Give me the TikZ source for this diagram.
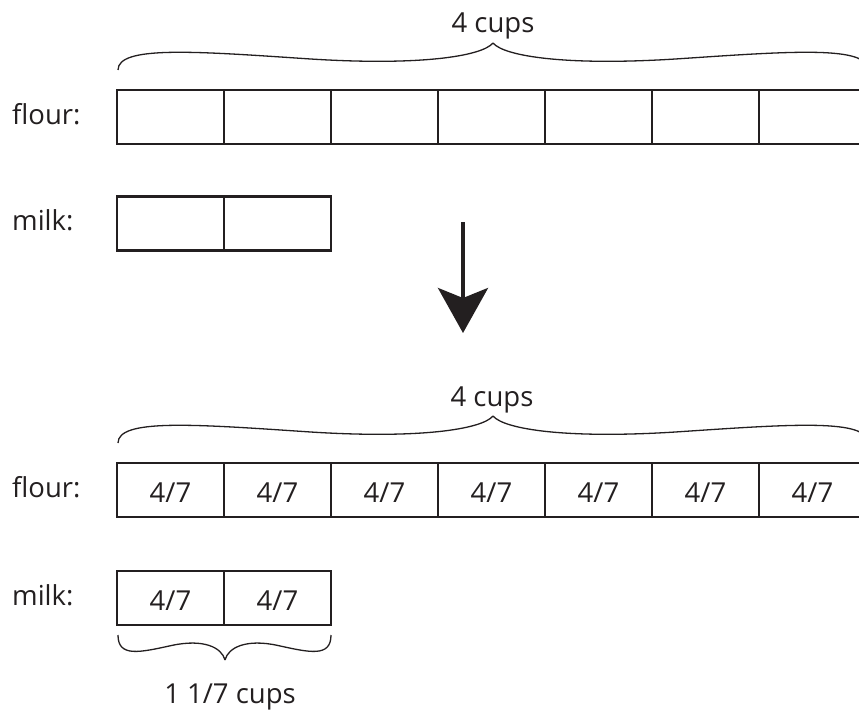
\documentclass[tikz,border=0pt]{standalone}
\usepackage{fontspec}
\setmainfont{Open Sans}
\usetikzlibrary{arrows.meta}
\definecolor{ink}{HTML}{231F20}
\tikzset{
  cell/.style={draw=ink,line width=2.8pt,minimum width=107pt,minimum height=54pt,inner sep=0pt,font=\fontsize{27.5}{32}\selectfont,text=ink},
  lbl/.style={font=\fontsize{27.5}{32}\selectfont,text=ink,inner sep=0pt},
  brace/.style={draw=ink,line width=1.3pt},
  halfbrace/.pic={\draw[brace] (0,0) .. controls (0,0.9) and (0.2,0.7) .. (0.5,0.42) .. controls (0.8,0.14) and (0.97,0.5) .. (1,1);}
}
\begin{document}
\begin{tikzpicture}[x=1pt,y=-1pt]
\useasboundingbox (0,0) rectangle (859,717);
% top part
\foreach \i in {0,...,6} \node[cell] (fa\i) at ({170.5+107*\i},117) {};
\node[cell] (ma0) at (170.5,223.5) {};
\node[cell] (ma1) at (277.5,223.5) {};
\node[lbl,anchor=base west] (lfa) at (12,124) {flour:};
\node[lbl,anchor=base west] (lma) at (12,230) {milk:};
\pic[xscale=375,yscale=-27] at (118,70) {halfbrace};
\pic[xscale=-375,yscale=-27] at (868,70) {halfbrace};
\node[lbl,anchor=base] (ca) at (493,33) {4 cups};
% arrow
\coordinate (as) at (463,222);
\coordinate (at) at (463,333);
\draw[ink,line width=4pt,-{Stealth[length=45pt,width=50pt,inset=10pt]}] (as) -- (at);
% bottom part
\foreach \i in {0,...,6} \node[cell] (fb\i) at ({170.5+107*\i},490) {};
\foreach \i in {0,...,6} \node[lbl,anchor=base] (tb\i) at ({170.5+107*\i},502) {4/7};
\node[cell] (mb0) at (170.5,598) {};
\node[cell] (mb1) at (277.5,598) {};
\node[lbl,anchor=base] (tm0) at (170.5,610) {4/7};
\node[lbl,anchor=base] (tm1) at (277.5,610) {4/7};
\node[lbl,anchor=base west] (lfb) at (12,497) {flour:};
\node[lbl,anchor=base west] (lmb) at (12,605) {milk:};
\pic[xscale=375,yscale=-27] at (118,443) {halfbrace};
\pic[xscale=-375,yscale=-27] at (868,443) {halfbrace};
\node[lbl,anchor=base] (cb) at (492,406) {4 cups};
\pic[xscale=107,yscale=25] at (118,635) {halfbrace};
\pic[xscale=-106,yscale=25] at (331,635) {halfbrace};
\node[lbl,anchor=base] (cm) at (230,703) {1 1/7 cups};
\end{tikzpicture}
\end{document}
